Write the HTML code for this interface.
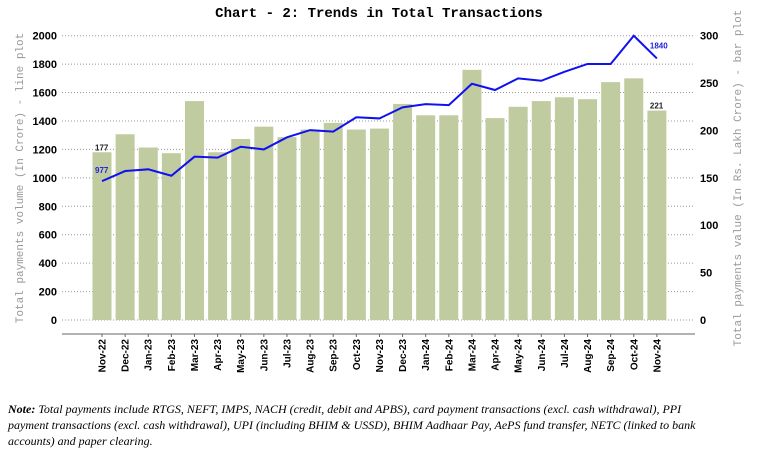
<!DOCTYPE html>
<html><head><meta charset="utf-8"><style>
html,body{margin:0;padding:0;background:#fff;width:779px;height:458px;overflow:hidden}
svg{display:block}
.note{position:absolute;left:8px;top:401px;width:765px;white-space:nowrap;font-family:"Liberation Serif",serif;font-style:italic;font-size:12px;line-height:16px;color:#000}
</style></head><body>
<svg id="chart" width="779" height="390" xmlns="http://www.w3.org/2000/svg"></svg>
<div class="note"><b>Note:</b> Total payments include RTGS, NEFT, IMPS, NACH (credit, debit and APBS), card payment transactions (excl. cash withdrawal), PPI<br>payment transactions (excl. cash withdrawal), UPI (including BHIM &amp; USSD), BHIM Aadhaar Pay, AePS fund transfer, NETC (linked to bank<br>accounts) and paper clearing.</div>
<script>
const categories=["Nov-22","Dec-22","Jan-23","Feb-23","Mar-23","Apr-23","May-23","Jun-23","Jul-23","Aug-23","Sep-23","Oct-23","Nov-23","Dec-23","Jan-24","Feb-24","Mar-24","Apr-24","May-24","Jun-24","Jul-24","Aug-24","Sep-24","Oct-24","Nov-24"];
const barValues=[177,196,182,176,231,177,191,204,193,201,208,201,202,228,216,216,264,213,225,231,235,233,251,255,221];
const lineValues=[977,1048,1060,1015,1149,1142,1219,1200,1285,1336,1325,1426,1418,1496,1519,1512,1662,1618,1700,1683,1746,1801,1801,2000,1840];
const leftTicks=[0,200,400,600,800,1000,1200,1400,1600,1800,2000];
const rightTicks=[0,50,100,150,200,250,300];
const NS="http://www.w3.org/2000/svg";
const svg=document.getElementById('chart');
const X0=62,X1=695,Y0=320,Y1=35.7;
const yL=v=>Y0-(v/2000)*(Y0-Y1);
const yR=v=>Y0-(v/300)*(Y0-Y1);
const step=23.12, xC=i=>102+i*step;
function mk(t,a,txt){const e=document.createElementNS(NS,t);for(const k in a)e.setAttribute(k,a[k]);if(txt!==undefined)e.textContent=txt;svg.appendChild(e);return e;}
let t=mk('text',{x:379,y:17,'text-anchor':'middle','font-family':'Liberation Mono, monospace','font-size':'14','font-weight':'bold'},'Chart - 2: Trends in Total Transactions');


leftTicks.forEach(v=>{
  const y=yL(v);
  const g=mk('line',{x1:X0,x2:X1,y1:y,y2:y,stroke:'#999','stroke-width':1,'stroke-dasharray':'1,2'});
  
  
  const l=mk('text',{x:57,y:y+4,'text-anchor':'end','font-family':'Liberation Sans, sans-serif','font-size':'11','font-weight':'bold'},v);
  
  
});
rightTicks.forEach(v=>{
  const y=yR(v);
  const l=mk('text',{x:700,y:y+4,'font-family':'Liberation Sans, sans-serif','font-size':'11','font-weight':'bold'},v);
  
  
});
barValues.forEach((v,i)=>{
  const y=yR(v);
  const b=mk('rect',{x:xC(i)-9.5,y:y,width:19,height:Y0-y,fill:'#c0cba0'});
  
  
});
const ax=mk('line',{x1:X0,x2:X1,y1:334,y2:334,stroke:'#999','stroke-width':1.5});


categories.forEach((c,i)=>{
  const tk=mk('line',{x1:xC(i),x2:xC(i),y1:334,y2:337,stroke:'#666','stroke-width':1});
  
  
  const l=mk('text',{x:0,y:0,'text-anchor':'end','font-family':'Liberation Sans, sans-serif','font-size':'10','font-weight':'bold',transform:`translate(${xC(i)+3.5},339) rotate(-90)`},c);
  
  
});
const pts=lineValues.map((v,i)=>xC(i)+','+yL(v)).join(' ');
const pl=mk('polyline',{points:pts,fill:'none',stroke:'#1010f0','stroke-width':2});


const dl=[[0,lineValues[0],xC(0)-7,yL(lineValues[0])-8,'#2222dd'],[24,lineValues[24],xC(24)-7,yL(lineValues[24])-10,'#2222dd']];
dl.forEach(d=>{const e=mk('text',{x:d[2],y:d[3],'font-family':'Liberation Sans, sans-serif','font-size':'8','font-weight':'bold',fill:d[4]},d[1]);

});
[[0,barValues[0]],[24,barValues[24]]].forEach(d=>{const e=mk('text',{x:xC(d[0])-7,y:yR(d[1])-2,'font-family':'Liberation Sans, sans-serif','font-size':'8','font-weight':'bold',fill:'#222'},d[1]);

});
let a=mk('text',{x:0,y:0,'text-anchor':'middle','font-family':'Liberation Mono, monospace','font-size':'11',fill:'#999',transform:'translate(23,178) rotate(-90)'},'Total payments volume (In Crore) - line plot');


a=mk('text',{x:0,y:0,'text-anchor':'middle','font-family':'Liberation Mono, monospace','font-size':'11',fill:'#999',transform:'translate(741,178) rotate(-90)'},'Total payments value (In Rs. Lakh Crore) - bar plot');


</script>
</body></html>
